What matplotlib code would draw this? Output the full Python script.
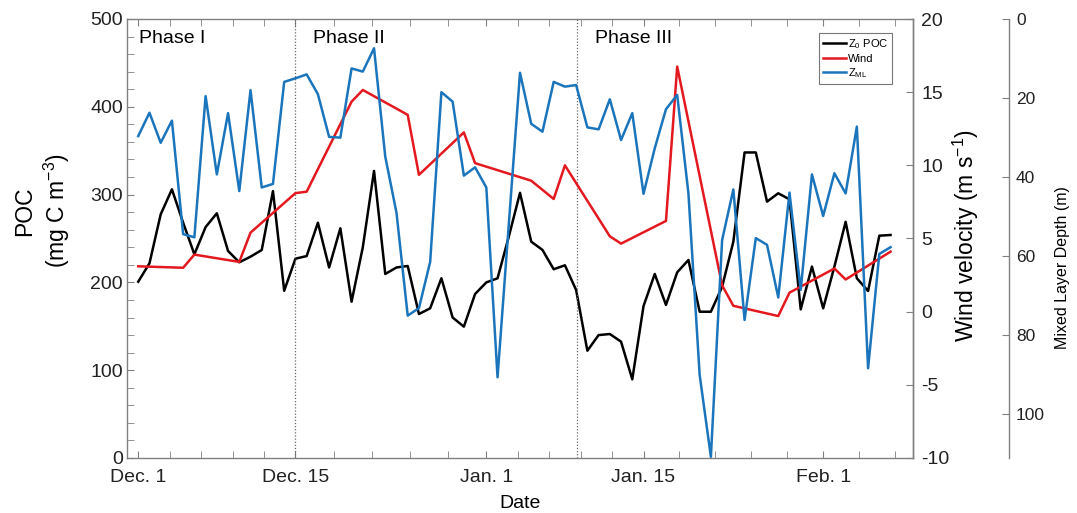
import numpy as np
import matplotlib.pyplot as plt

plt.rcParams['font.family'] = ['Liberation Sans', 'DejaVu Sans']
plt.rcParams['mathtext.default'] = 'regular'
plt.rcParams['axes.unicode_minus'] = False

# Daily surface POC (mg C m-3), days counted from Dec. 1
poc = [200.8, 221.7, 277.5, 306, 268, 232, 263, 278.7, 235.8, 222.9,
       229.3, 236.9, 304, 190.5, 227, 230, 268, 217, 261.6, 178,
       240, 327, 209.6, 217, 218.7, 164, 170.5, 204.7, 160, 149.6,
       186.8, 200, 204.7, 252, 302, 246.4, 237, 215, 219.5, 191.3,
       122.2, 140, 141.2, 132.5, 89.6, 173, 209.6, 174.3, 211.5, 225.5,
       166.6, 166.6, 195, 246.4, 348, 348, 292, 301.5, 294.6, 169.3,
       218, 170.5, 218, 269, 204.7, 190.2, 253.2, 254]

# Mixed layer depth (m), same days
mld = [29.6, 23.7, 31.3, 25.7, 54.4, 55.2, 19.5, 39.3, 23.8, 43.5,
       18.0, 42.6, 41.7, 15.9, 15.0, 14.0, 19.0, 29.8, 30.0, 12.5,
       13.3, 7.4, 34.8, 49.0, 75.0, 73.1, 61.4, 18.5, 20.9, 39.6,
       37.5, 42.6, 90.6, 52.0, 13.6, 26.5, 28.5, 15.9, 17.1, 16.7,
       27.4, 27.9, 20.3, 30.6, 23.8, 44.2, 32.7, 22.8, 19.2, 44.1,
       90.0, 110.7, 55.9, 43.1, 76.1, 55.4, 57.1, 70.4, 43.9, 68.5,
       39.3, 49.8, 39.0, 44.1, 27.2, 88.3, 59.4, 57.7]

days = np.arange(len(poc))

# Wind velocity (m s-1), irregular sampling
wind_days = [0, 4, 5, 9, 10, 14, 15, 19, 20, 24, 25, 29, 30, 35, 37, 38,
             42, 43, 47, 48, 52, 53, 57, 58, 62, 63, 67]
wind = [3.1, 3.0, 3.9, 3.4, 5.4, 8.1, 8.2, 14.35, 15.15, 13.45, 9.35, 12.25,
        10.15, 8.95, 7.7, 10.0, 5.15, 4.65, 6.2, 16.75, 1.8, 0.4, -0.3, 1.3,
        2.95, 2.2, 4.1]

tick_days = [0, 14, 31, 45, 61]
tick_labels = ['Dec. 1', 'Dec. 15', 'Jan. 1', 'Jan. 15', 'Feb. 1']
phase_breaks = [14, 39.1]
phase_names = ['Phase I', 'Phase II', 'Phase III']
phase_x = [0.1, 15.6, 40.7]

frame_col = '#808080'
red = '#e3191f'
blue = '#1b75bc'
W, H = 1077, 513

fig = plt.figure(figsize=(W / 100, H / 100), dpi=100)
ax = fig.add_axes([127 / W, 55 / H, 786 / W, 439 / H])
ax_w = ax.twinx()
ax_m = ax.twinx()

l1, = ax.plot(days, poc, color='black', lw=1.8, label='Z$_0$ POC')
l2, = ax_w.plot(wind_days, wind, color=red, lw=1.8, label='Wind')
l3, = ax_m.plot(days, mld, color=blue, lw=1.8, label='Z$_{ML}$')

# phase boundaries and names
for xb in phase_breaks:
    ax.axvline(xb, color='#666666', lw=0.9, ls=(0, (1, 1.5)))
for name, xp in zip(phase_names, phase_x):
    ax.text(xp, 478, name, fontsize=14, va='center', ha='left')

# main axis: POC + dates
ax.set_xlim(-1, 69)
ax.set_ylim(0, 500)
ax.set_xticks(tick_days)
ax.set_xticklabels(tick_labels)
minor = []
for a, b in zip(tick_days[:-1], tick_days[1:]):
    minor += list(np.linspace(a, b, 6)[1:-1])
step = (tick_days[-1] - tick_days[-2]) / 5
minor += [tick_days[-1] + step, tick_days[-1] + 2 * step]
ax.set_xticks(minor, minor=True)
ax.set_yticks(range(0, 501, 100))
ax.set_yticks(range(0, 501, 20), minor=True)
ax.tick_params(axis='x', which='both', direction='in', top=True, length=5,
               color=frame_col, labelsize=14, pad=8, labelcolor='#222222')
ax.tick_params(axis='y', which='both', direction='in', right=False, length=5,
               color=frame_col, labelsize=14, pad=3, labelcolor='#222222')
ax.set_xlabel('Date', fontsize=14)
ax.xaxis.set_label_coords(0.5, -0.085)

# wind axis on the right frame
ax_w.set_ylim(-10, 20)
ax_w.set_yticks(range(-10, 21, 5))
ax_w.tick_params(axis='y', direction='in', length=5, color=frame_col,
                 labelsize=14, pad=6, labelcolor='#222222')

# mixed layer depth axis, offset further right, depth increasing downward
ax_m.spines['right'].set_position(('axes', (1009 - 127) / 786))
ax_m.set_ylim(111, 0)
ax_m.set_yticks(range(0, 101, 20))
ax_m.tick_params(axis='y', direction='in', length=5, color=frame_col,
                 labelsize=12.5, pad=5, labelcolor='#222222')

for a in (ax, ax_w, ax_m):
    for s in a.spines.values():
        s.set_color(frame_col)
        s.set_linewidth(1.0)
for a in (ax_w, ax_m):
    for side in ('top', 'left', 'bottom'):
        a.spines[side].set_visible(False)

fig.text(43 / W, 1 - 211 / H, 'POC\n(mg C m$^{-3}$)', rotation=90,
         ha='center', va='center', multialignment='center', fontsize=16.5,
         linespacing=1.25)
fig.text(966 / W, 1 - 236 / H, 'Wind velocity (m s$^{-1}$)', rotation=90,
         ha='center', va='center', fontsize=16.5)
fig.text(1062 / W, 1 - 268 / H, 'Mixed Layer Depth (m)', rotation=90,
         ha='center', va='center', fontsize=11.5)

leg = ax_m.legend(handles=[l1, l2, l3], loc='upper right',
                  bbox_to_anchor=(0.9733, 0.968), fontsize=8, fancybox=False,
                  edgecolor='#555555', handlelength=2.0, handletextpad=0.2,
                  borderpad=0.35, labelspacing=0.25, borderaxespad=0)
leg.get_frame().set_linewidth(0.8)

fig.savefig('out.png', dpi=100)
